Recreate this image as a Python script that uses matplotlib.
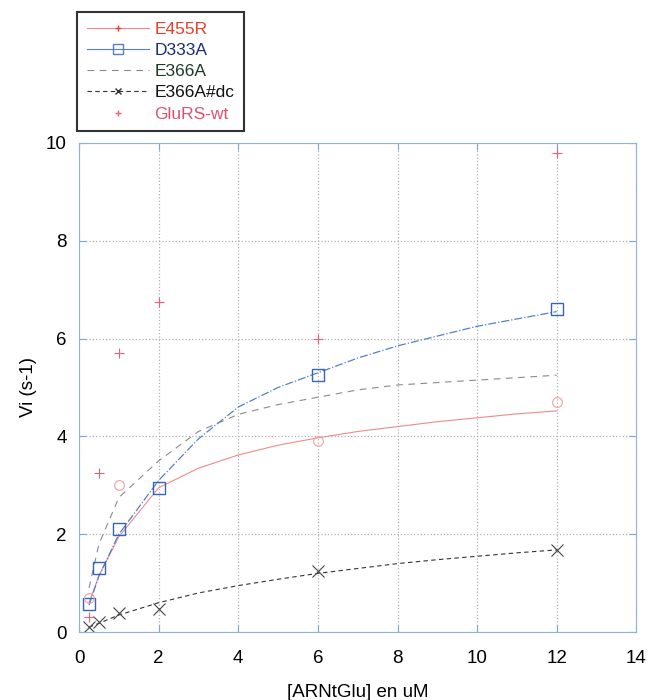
import matplotlib
matplotlib.use("Agg")
import matplotlib.pyplot as plt
from matplotlib.lines import Line2D

plt.rcParams["font.family"] = ["Liberation Sans", "DejaVu Sans"]

# substrate concentrations of the measured points
conc = [0.25, 0.5, 1, 2, 6, 12]

# measured rates
d333a_pts = [0.57, 1.3, 2.1, 2.95, 5.25, 6.6]
dc_pts = [0.1, 0.2, 0.4, 0.48, 1.25, 1.68]
wt_pts = [0.3, 3.25, 5.7, 6.75, 6.0, 9.8]
e455r_pts_x = [0.25, 1, 6, 12]
e455r_pts = [0.7, 3.0, 3.9, 4.7]

# fitted curves
fit_x = [0.25, 0.5, 1, 2, 3, 4, 5, 6, 7, 8, 9, 10, 11, 12]
e455r_fit = [0.6, 1.15, 1.95, 2.95, 3.35, 3.62, 3.82, 3.97, 4.1, 4.2, 4.3, 4.38, 4.46, 4.52]
d333a_fit = [0.55, 1.15, 2.0, 3.1, 3.95, 4.6, 5.0, 5.3, 5.6, 5.85, 6.05, 6.25, 6.4, 6.55]
e366a_fit = [0.9, 1.8, 2.75, 3.5, 4.1, 4.45, 4.65, 4.8, 4.95, 5.05, 5.1, 5.15, 5.2, 5.25]
dc_fit = [0.1, 0.18, 0.35, 0.6, 0.8, 0.95, 1.08, 1.2, 1.3, 1.4, 1.48, 1.55, 1.62, 1.68]

labels = ["E455R", "D333A", "E366A", "E366A#dc", "GluRS-wt"]
text_colors = ["#e8402a", "#1c2c78", "#1d3a28", "#111111", "#e0506e"]

fig = plt.figure(figsize=(6.48, 7.0), dpi=100)
ax = fig.add_axes([0.122, 0.097, 0.86, 0.699])

ax.plot(fit_x, e455r_fit, "-", color="#f08a8a", lw=0.8)
ax.plot(fit_x, d333a_fit, "-.", color="#5580c8", lw=0.9)
ax.plot(fit_x, e366a_fit, "--", color="#8a8a8a", lw=0.8, dashes=(6, 5))
ax.plot(fit_x, dc_fit, "--", color="#333333", lw=0.8, dashes=(4, 3))

ax.plot(conc, d333a_pts, "s", mfc="none", mec="#3366bb", ms=8, mew=1.0)
ax.plot(conc, dc_pts, "x", color="#444444", ms=8, mew=0.8)
ax.plot(conc, wt_pts, "+", color="#f06070", ms=7, mew=0.8)
ax.plot(e455r_pts_x, e455r_pts, "o", mfc="none", mec="#f0a0a0", ms=7, mew=0.8)

ax.set_xlim(0, 14)
ax.set_ylim(0, 10)
ax.set_xticks(range(0, 15, 2))
ax.set_yticks(range(0, 11, 2))
ax.grid(True, linestyle=":", color="#b0b0b0", lw=0.9)
ax.tick_params(direction="in", top=True, right=True, length=5,
               color="#7fa6d8", labelsize=13.5)
ax.tick_params(axis="x", pad=13)
ax.tick_params(axis="y", pad=9)
for s in ax.spines.values():
    s.set_color("#8fb3e0")
ax.set_xlabel("[ARNtGlu] en uM", fontsize=13.5, labelpad=12)
ax.set_ylabel("Vi (s-1)", fontsize=13.5, labelpad=6)

handles = [
    Line2D([], [], color="#f08a8a", lw=0.8, marker="+", ms=4, mec="#e8402a"),
    Line2D([], [], color="#5580c8", lw=0.8, marker="s", mfc="none", ms=7),
    Line2D([], [], color="#8a8a8a", lw=0.8, ls="--", dashes=(6, 5)),
    Line2D([], [], color="#333333", lw=0.8, ls="--", dashes=(4, 3), marker="x", ms=5),
    Line2D([], [], color="#f06070", lw=0, marker="+", ms=5),
]
leg = fig.legend(handles, labels, loc="upper left",
                 bbox_to_anchor=(77 / 648, 1 - 12 / 700), borderaxespad=0,
                 fontsize=12.5, frameon=True, fancybox=False,
                 edgecolor="black", handlelength=3.6, labelspacing=0.35,
                 borderpad=0.55, handletextpad=0.3)
leg.get_frame().set_linewidth(1.5)
for t, c in zip(leg.get_texts(), text_colors):
    t.set_color(c)

fig.savefig("out.png", dpi=100)
